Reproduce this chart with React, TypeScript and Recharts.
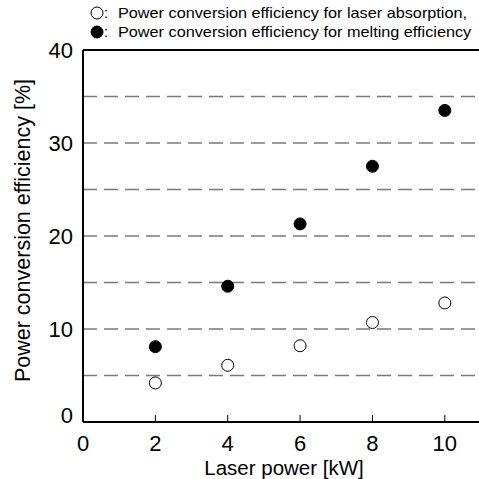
import React from 'react';
import { ScatterChart, Scatter, XAxis, YAxis, ReferenceLine } from 'recharts';

const laserPower = [2, 4, 6, 8, 10];
const absorptionEff = [4.2, 6.1, 8.2, 10.7, 12.8];
const meltingEff = [8.1, 14.6, 21.3, 27.5, 33.5];
const xTicks = [0, 2, 4, 6, 8, 10];
const yTicks = [0, 10, 20, 30, 40];
const gridValues = [5, 10, 15, 20, 25, 30, 35];
const legendLabels = [
  'Power conversion efficiency for laser absorption,',
  'Power conversion efficiency for melting efficiency',
];
const xLabel = 'Laser power [kW]';
const yLabel = 'Power conversion efficiency [%]';

const absData = laserPower.map((x, i) => ({ x, y: absorptionEff[i] }));
const meltData = laserPower.map((x, i) => ({ x, y: meltingEff[i] }));

const FONT = 'Arial, "Liberation Sans", sans-serif';

const OpenDot = (p: any) => (
  <circle cx={p.cx} cy={p.cy} r={6} fill="#fff" stroke="#000" strokeWidth={1} />
);
const FilledDot = (p: any) => (
  <circle cx={p.cx} cy={p.cy} r={6} fill="#000" stroke="#000" strokeWidth={1} />
);

const YTick = (p: any) => (
  <text
    x={p.x}
    y={p.y + (p.payload.value === 0 ? -7 : 0)}
    textAnchor="end"
    dominantBaseline="central"
    fontSize={22}
    fontFamily={FONT}
    fill="#000"
  >
    {p.payload.value}
  </text>
);

const YLabel = (p: any) => {
  const vb = p.viewBox || { x: 0, y: 50, width: 83, height: 372 };
  const cx = 23;
  const cy = vb.y + vb.height / 2 - 5.5;
  return (
    <text
      x={cx}
      y={cy}
      transform={`rotate(-90, ${cx}, ${cy})`}
      textAnchor="middle"
      dominantBaseline="central"
      fontSize={21.5}
      fontFamily={FONT}
      fill="#000"
    >
      {yLabel}
    </text>
  );
};

const XLabel = (p: any) => {
  const vb = p.viewBox || { x: 83, y: 422, width: 398, height: 57 };
  return (
    <text
      x={vb.x + vb.width / 2 + 2}
      y={475}
      textAnchor="middle"
      fontSize={20.5}
      fontFamily={FONT}
      fill="#000"
    >
      {xLabel}
    </text>
  );
};

export default function App() {
  return (
    <div style={{ position: 'absolute', left: 0, top: 0, width: 479, height: 479, overflow: 'hidden', background: '#fff', fontFamily: FONT }}>
      <ScatterChart width={482} height={479} margin={{ top: 50, right: 1, bottom: 0, left: 0 }}>
        <XAxis
          type="number"
          dataKey="x"
          domain={[0, 11]}
          ticks={xTicks}
          allowDataOverflow
          height={57}
          tickSize={-7}
          tickMargin={20}
          tick={{ fontSize: 22, fill: '#000', fontFamily: FONT }}
          axisLine={{ stroke: '#000', strokeWidth: 2 }}
          tickLine={{ stroke: '#000', strokeWidth: 1 }}
          label={XLabel}
        />
        <YAxis
          type="number"
          dataKey="y"
          domain={[0, 40]}
          ticks={yTicks}
          width={83}
          tickSize={0}
          tickMargin={10}
          tickLine={false}
          tick={YTick}
          axisLine={{ stroke: '#000', strokeWidth: 2 }}
          label={YLabel}
        />
        {gridValues.map((v) => (
          <ReferenceLine key={v} y={v} stroke="#7a7a7a" strokeWidth={1.5} strokeDasharray="14 7" />
        ))}
        <ReferenceLine y={40} stroke="#000" strokeWidth={2} />
        <Scatter data={absData} shape={OpenDot} isAnimationActive={false} />
        <Scatter data={meltData} shape={FilledDot} isAnimationActive={false} />
      </ScatterChart>
      {legendLabels.map((t, i) => (
        <div key={i} style={{ position: 'absolute', left: 0, top: 4 + i * 19, height: 18, width: 479, fontSize: 14.5, fontFamily: FONT, color: '#000', whiteSpace: 'nowrap' }}>
          <svg width={14} height={14} style={{ position: 'absolute', left: 90, top: 2 }}>
            <circle cx={7} cy={7} r={6} fill={i === 0 ? '#fff' : '#000'} stroke="#000" strokeWidth={1} />
          </svg>
          <span style={{ position: 'absolute', left: 104, top: 0, lineHeight: '18px' }}>:</span>
          <span style={{ position: 'absolute', left: 118, top: 0, lineHeight: '18px', transform: 'scaleX(1.12)', transformOrigin: 'left center' }}>{t}</span>
        </div>
      ))}
    </div>
  );
}
